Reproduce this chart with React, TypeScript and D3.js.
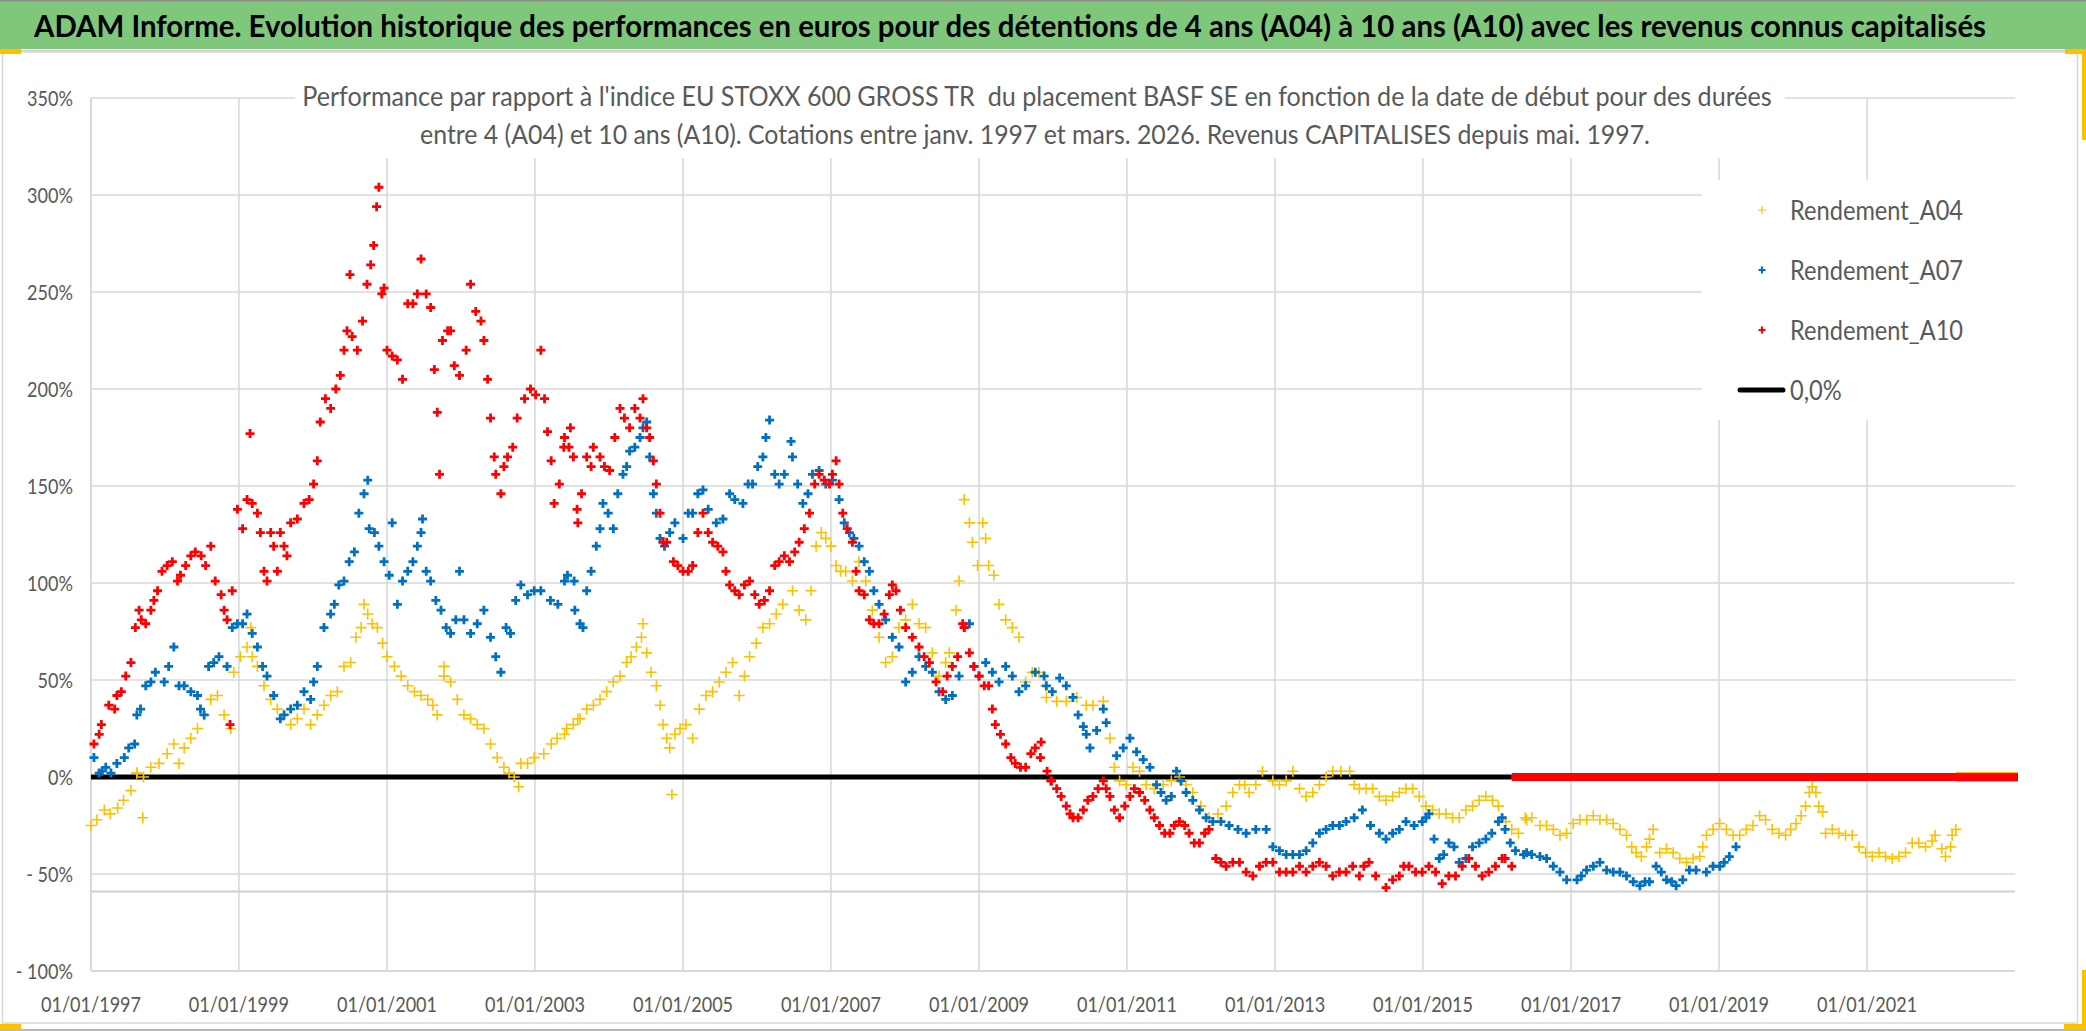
import { useLayoutEffect, useRef, useState } from 'react'
import * as d3 from 'd3'

// [decimal year, performance %] (two reading passes)
const A04: [number, number][] = [
  [1997.0, -25], [1997.18, -17], [1997.36, -16], [1997.54, -7], [1997.62, 2], [1997.7, -21],
  [1997.81, 5], [1998.03, 12], [1998.26, 15], [1998.44, 25], [1998.62, 40], [1998.8, 32],
  [1998.93, 54], [1999.11, 67], [1999.16, 77], [1999.25, 57], [1999.43, 40], [1999.61, 32],
  [1999.79, 30], [1999.97, 27], [2000.15, 37], [2000.33, 44], [2000.51, 59], [2000.65, 77],
  [2000.74, 84], [2000.87, 77], [2001.0, 62], [2001.19, 52], [2001.37, 44], [2001.55, 40],
  [2001.68, 32], [2001.77, 57], [2001.86, 49], [2002.04, 32], [2002.22, 27], [2002.4, 17],
  [2002.58, 5], [2002.72, 0], [2002.78, -5], [2002.9, 7], [2003.12, 12], [2003.3, 20],
  [2003.52, 27], [2003.7, 35], [2003.88, 40], [2004.06, 49], [2004.24, 59], [2004.37, 67],
  [2004.46, 79], [2004.51, 64], [2004.64, 47], [2004.73, 27], [2004.82, 15], [2004.85, -9],
  [2004.96, 25], [2005.13, 20], [2005.31, 42], [2005.49, 49], [2005.67, 59], [2005.76, 42],
  [2005.9, 62], [2006.08, 77], [2006.26, 84], [2006.48, 96], [2006.66, 81], [2006.8, 119],
  [2006.93, 123], [2007.07, 109], [2007.2, 106], [2007.38, 111], [2007.56, 86], [2007.74, 59],
  [2007.92, 77], [2008.1, 89], [2008.28, 77], [2008.46, 52], [2008.6, 64], [2008.73, 101],
  [2008.8, 143], [2008.91, 121], [2009.05, 131], [2009.13, 109], [2009.27, 89], [2009.45, 77],
  [2009.63, 49], [2009.81, 54], [2009.91, 41], [2010.18, 39], [2010.45, 37], [2010.68, 39],
  [2010.77, 20], [2010.9, -2], [2011.08, 5], [2011.26, -4], [2011.49, -4], [2011.71, 0],
  [2011.89, -8], [2012.11, -21], [2012.34, -15], [2012.52, -4], [2012.65, -8], [2012.83, 3],
  [2013.06, -4], [2013.24, 3], [2013.42, -10], [2013.6, -4], [2013.78, 3], [2014.01, 3],
  [2014.14, -6], [2014.32, -6], [2014.5, -12], [2014.68, -8], [2014.86, -6], [2015.04, -15],
  [2015.22, -19], [2015.4, -21], [2015.58, -17], [2015.76, -12], [2015.94, -12], [2016.12, -23],
  [2016.29, -29], [2016.47, -21], [2016.67, -25], [2016.85, -30], [2017.03, -24], [2017.21, -22],
  [2017.39, -22], [2017.57, -24], [2017.75, -30], [2017.88, -39], [2018.02, -36], [2018.11, -27],
  [2018.2, -39], [2018.38, -39], [2018.56, -44], [2018.74, -41], [2018.83, -30], [2019.01, -24],
  [2019.19, -30], [2019.37, -27], [2019.55, -20], [2019.72, -27], [2019.9, -30], [2020.04, -24],
  [2020.17, -15], [2020.26, -5], [2020.35, -15], [2020.44, -29], [2020.62, -29], [2020.8, -30],
  [2020.98, -39], [2021.16, -39], [2021.34, -42], [2021.52, -39], [2021.7, -34], [2021.88, -33],
  [2022.06, -41], [2022.15, -30], [2022.2, -27],
  // second pass
  [1997.08, -22], [1997.26, -19], [1997.44, -12], [1997.62, 2], [1997.71, 0], [1997.92, 7],
  [1998.12, 17], [1998.19, 7], [1998.35, 20], [1998.53, 32], [1998.71, 42], [1998.89, 25],
  [1999.02, 62], [1999.18, 62], [1999.34, 47], [1999.52, 35], [1999.7, 27], [1999.88, 35],
  [2000.06, 32], [2000.24, 42], [2000.42, 57], [2000.58, 72], [2000.69, 89], [2000.8, 79],
  [2000.94, 69], [2001.1, 57], [2001.28, 47], [2001.46, 42], [2001.62, 37], [2001.77, 52],
  [2001.95, 40], [2002.13, 30], [2002.31, 25], [2002.49, 10], [2002.65, 2], [2002.81, 7],
  [2002.99, 10], [2003.22, 17], [2003.4, 22], [2003.58, 30], [2003.43, 25], [2003.61, 30],
  [2003.79, 37], [2003.97, 44], [2004.15, 52], [2004.3, 62], [2004.44, 72], [2004.57, 54],
  [2004.69, 37], [2004.78, 20], [2004.89, 22], [2005.04, 27], [2005.22, 35], [2005.4, 44],
  [2005.58, 54], [2005.83, 52], [2005.99, 69], [2006.17, 79], [2006.35, 89], [2006.57, 86],
  [2006.73, 96], [2006.87, 126], [2007.0, 119], [2007.13, 106], [2007.29, 101], [2007.47, 101],
  [2007.65, 72], [2007.83, 62], [2008.01, 81], [2008.19, 79], [2008.37, 64], [2008.55, 59],
  [2008.69, 86], [2008.87, 131], [2008.98, 109], [2009.09, 123], [2009.2, 104], [2009.36, 81],
  [2009.54, 72], [2009.72, 54], [2009.9, 47], [2010.05, 39], [2010.32, 41], [2010.54, 37],
  [2010.83, 5], [2010.99, -4], [2011.17, 3], [2011.37, -6], [2011.6, -2], [2011.8, -4],
  [2012.0, -15], [2012.23, -19], [2012.43, -8], [2012.59, -4], [2012.74, -4], [2012.97, -2],
  [2013.15, -2], [2013.33, -6], [2013.51, -8], [2013.69, 0], [2013.89, 3], [2014.07, -4],
  [2014.23, -6], [2014.41, -10], [2014.59, -10], [2014.77, -6], [2014.95, -10], [2015.13, -17],
  [2015.31, -19], [2015.49, -21], [2015.67, -15], [2015.85, -10], [2016.02, -15], [2016.2, -27],
  [2016.38, -21], [2016.4, -22], [2016.58, -25], [2016.76, -27], [2016.94, -29], [2017.12, -22],
  [2017.3, -20], [2017.48, -22], [2017.66, -27], [2017.82, -36], [2017.95, -41], [2018.06, -32],
  [2018.29, -37], [2018.47, -42], [2018.65, -42], [2018.78, -36], [2018.92, -27], [2019.1, -27],
  [2019.28, -30], [2019.46, -25], [2019.63, -22], [2019.81, -29], [2019.97, -27], [2020.11, -20],
  [2020.22, -8], [2020.31, -8], [2020.4, -18], [2020.53, -27], [2020.71, -30], [2020.89, -36],
  [2021.07, -41], [2021.25, -41], [2021.43, -41], [2021.61, -34], [2021.79, -36], [2021.92, -30],
  [2022.01, -37], [2022.13, -36],
]

const A07: [number, number][] = [
  [1997.04, 10], [1997.15, 3], [1997.27, 2], [1997.45, 10], [1997.59, 17], [1997.67, 35],
  [1997.81, 49], [1997.99, 49], [1998.12, 67], [1998.26, 47], [1998.44, 42], [1998.53, 32],
  [1998.66, 59], [1998.84, 57], [1998.98, 79], [1999.11, 84], [1999.25, 67], [1999.38, 52],
  [1999.61, 32], [1999.79, 37], [1999.97, 40], [2000.06, 57], [2000.24, 84], [2000.42, 101],
  [2000.56, 116], [2000.69, 146], [2000.74, 153], [2000.83, 126], [2000.96, 111], [2001.14, 89],
  [2001.28, 106], [2001.41, 119], [2001.48, 133], [2001.59, 101], [2001.73, 86], [2001.86, 74],
  [2002.04, 81], [2002.22, 79], [2002.4, 72], [2002.54, 54], [2002.67, 74], [2002.81, 99],
  [2002.99, 96], [2003.21, 91], [2003.44, 104], [2003.61, 79], [2003.7, 96], [2003.83, 119],
  [2003.92, 141], [2004.06, 128], [2004.19, 156], [2004.28, 168], [2004.42, 175], [2004.51, 183],
  [2004.6, 146], [2004.69, 123], [2004.82, 126], [2005.0, 123], [2005.13, 136], [2005.27, 148],
  [2005.45, 131], [2005.63, 146], [2005.81, 141], [2005.94, 151], [2006.08, 165], [2006.17, 184],
  [2006.3, 151], [2006.48, 165], [2006.62, 141], [2006.75, 156], [2006.93, 151], [2007.11, 143],
  [2007.25, 126], [2007.38, 119], [2007.52, 106], [2007.65, 89], [2007.83, 72], [2008.01, 49],
  [2008.19, 62], [2008.37, 54], [2008.55, 40], [2008.73, 52], [2008.87, 79], [2009.0, 52],
  [2009.18, 54], [2009.36, 57], [2009.54, 44], [2009.76, 54], [2009.99, 44], [2010.09, 51],
  [2010.27, 41], [2010.41, 26], [2010.5, 15], [2010.68, 35], [2010.86, 11], [2011.04, 20],
  [2011.22, 9], [2011.4, -4], [2011.53, -12], [2011.67, 3], [2011.8, -8], [2011.98, -17],
  [2012.16, -23], [2012.38, -25], [2012.61, -29], [2012.88, -27], [2013.06, -38], [2013.24, -40],
  [2013.42, -38], [2013.6, -29], [2013.78, -25], [2013.96, -23], [2014.18, -17], [2014.41, -29],
  [2014.59, -29], [2014.77, -23], [2014.99, -23], [2015.08, -19], [2015.22, -42], [2015.35, -34],
  [2015.49, -44], [2015.67, -36], [2015.85, -32], [2016.02, -23], [2016.11, -27], [2016.25, -38],
  [2016.47, -40], [2016.67, -42], [2016.85, -49], [2017.08, -53], [2017.21, -48], [2017.39, -44],
  [2017.57, -49], [2017.75, -51], [2017.93, -56], [2018.06, -54], [2018.15, -46], [2018.29, -53],
  [2018.42, -56], [2018.6, -48], [2018.83, -49], [2019.01, -46], [2019.14, -41], [2019.23, -36],
  // second pass
  [1997.11, 2], [1997.2, 5], [1997.35, 7], [1997.51, 15], [1997.62, 32], [1997.74, 47],
  [1997.87, 54], [1998.05, 57], [1998.19, 47], [1998.35, 44], [1998.48, 35], [1998.59, 57],
  [1998.73, 62], [1998.91, 77], [1999.05, 79], [1999.18, 74], [1999.32, 57], [1999.47, 42],
  [1999.56, 30], [1999.7, 35], [1999.88, 44], [2000.01, 49], [2000.15, 77], [2000.29, 89],
  [2000.35, 99], [2000.49, 111], [2000.62, 136], [2000.76, 128], [2000.89, 119], [2001.03, 104],
  [2001.07, 131], [2001.21, 101], [2001.35, 111], [2001.46, 126], [2001.53, 106], [2001.66, 91],
  [2001.8, 77], [2001.93, 81], [2001.98, 106], [2002.13, 74], [2002.31, 86], [2002.47, 62],
  [2002.61, 77], [2002.74, 91], [2002.9, 94], [2003.08, 96], [2003.31, 89], [2003.53, 101],
  [2003.4, 101], [2003.54, 86], [2003.65, 77], [2003.76, 106], [2003.88, 128], [2003.99, 136],
  [2004.12, 146], [2004.24, 160], [2004.35, 170], [2004.46, 180], [2004.55, 165], [2004.64, 136],
  [2004.75, 119], [2004.89, 131], [2005.07, 136], [2005.2, 146], [2005.34, 138], [2005.54, 133],
  [2005.7, 143], [2005.88, 151], [2006.01, 160], [2006.12, 175], [2006.24, 156], [2006.37, 156],
  [2006.46, 173], [2006.55, 151], [2006.69, 146], [2006.84, 158], [2007.02, 153], [2007.18, 131],
  [2007.31, 123], [2007.45, 111], [2007.58, 96], [2007.74, 81], [2007.92, 67], [2008.1, 54],
  [2008.28, 57], [2008.46, 44], [2008.64, 42], [2008.8, 77], [2008.93, 57], [2009.09, 59],
  [2009.27, 49], [2009.45, 52], [2009.63, 47], [2009.88, 52], [2009.91, 47], [2010.18, 47],
  [2010.34, 32], [2010.45, 22], [2010.59, 24], [2010.72, 28], [2010.95, 15], [2011.13, 13],
  [2011.31, 5], [2011.46, -8], [2011.6, -10], [2011.73, -2], [2011.89, -12], [2012.07, -21],
  [2012.27, -23], [2012.5, -27], [2012.74, -27], [2012.97, -36], [2013.15, -40], [2013.33, -40],
  [2013.51, -34], [2013.69, -27], [2013.87, -25], [2014.07, -21], [2014.29, -25], [2014.5, -32],
  [2014.68, -27], [2014.88, -25], [2015.04, -21], [2015.15, -32], [2015.28, -40], [2015.42, -36],
  [2015.58, -42], [2015.76, -34], [2015.93, -29], [2016.07, -21], [2016.18, -34], [2016.36, -40],
  [2016.4, -39], [2016.58, -41], [2016.76, -46], [2016.94, -53], [2017.14, -51], [2017.3, -46],
  [2017.48, -48], [2017.66, -49], [2017.84, -54], [2018.0, -54], [2018.22, -49], [2018.36, -54],
  [2018.51, -53], [2018.69, -48], [2018.92, -46], [2019.07, -44],
]

const A10: [number, number][] = [
  [1997.04, 17], [1997.14, 27], [1997.32, 35], [1997.41, 44], [1997.54, 59], [1997.68, 81],
  [1997.81, 86], [1997.9, 96], [1998.03, 109], [1998.21, 104], [1998.35, 114], [1998.49, 114],
  [1998.62, 119], [1998.76, 94], [1998.84, 81], [1998.88, 27], [1998.98, 138], [1999.11, 143],
  [1999.15, 177], [1999.25, 136], [1999.34, 106], [1999.43, 126], [1999.52, 106], [1999.61, 119],
  [1999.7, 131], [1999.88, 141], [2000.01, 151], [2000.1, 183], [2000.24, 190], [2000.37, 207],
  [2000.46, 230], [2000.5, 259], [2000.6, 220], [2000.73, 254], [2000.82, 274], [2000.89, 304],
  [2000.93, 249], [2001.0, 220], [2001.14, 215], [2001.28, 244], [2001.46, 267], [2001.59, 242],
  [2001.68, 188], [2001.71, 156], [2001.82, 230], [2001.91, 212], [2002.13, 254], [2002.27, 235],
  [2002.36, 205], [2002.45, 165], [2002.54, 146], [2002.63, 165], [2002.76, 185], [2002.94, 200],
  [2003.08, 220], [2003.17, 178], [2003.26, 141], [2003.39, 170], [2003.48, 180], [2003.57, 138],
  [2003.7, 165], [2003.88, 165], [2004.01, 158], [2004.15, 190], [2004.28, 180], [2004.46, 195],
  [2004.55, 175], [2004.64, 151], [2004.73, 121], [2004.87, 111], [2005.0, 106], [2005.13, 109],
  [2005.27, 136], [2005.4, 121], [2005.54, 116], [2005.63, 99], [2005.76, 94], [2005.9, 101],
  [2006.03, 89], [2006.17, 96], [2006.3, 111], [2006.44, 111], [2006.57, 121], [2006.71, 136],
  [2006.84, 156], [2006.98, 151], [2007.07, 163], [2007.16, 136], [2007.29, 121], [2007.38, 96],
  [2007.52, 81], [2007.65, 79], [2007.79, 94], [2007.88, 96], [2008.01, 77], [2008.19, 67],
  [2008.33, 59], [2008.51, 44], [2008.64, 57], [2008.78, 79], [2008.87, 64], [2009.0, 52],
  [2009.13, 47], [2009.22, 27], [2009.36, 17], [2009.49, 7], [2009.63, 5], [2009.76, 15],
  [2009.84, 18], [2009.92, 3], [2010.05, -6], [2010.18, -15], [2010.27, -21], [2010.41, -17],
  [2010.54, -10], [2010.68, -2], [2010.77, -10], [2010.9, -21], [2011.04, -10], [2011.17, -8],
  [2011.31, -17], [2011.44, -25], [2011.58, -29], [2011.71, -23], [2011.84, -29], [2011.98, -34],
  [2012.11, -27], [2012.2, -42], [2012.34, -46], [2012.52, -44], [2012.7, -51], [2012.88, -44],
  [2013.06, -49], [2013.24, -49], [2013.42, -49], [2013.6, -44], [2013.78, -51], [2013.96, -49],
  [2014.14, -51], [2014.27, -44], [2014.5, -57], [2014.68, -51], [2014.81, -46], [2014.99, -49],
  [2015.17, -49], [2015.26, -55], [2015.44, -51], [2015.62, -42], [2015.8, -51], [2015.98, -46],
  [2016.11, -42], [2016.2, -46],
  // second pass
  [1997.11, 22], [1997.24, 37], [1997.35, 42], [1997.47, 52], [1997.6, 77], [1997.65, 86],
  [1997.74, 79], [1997.85, 91], [1997.96, 106], [1998.1, 111], [1998.17, 101], [1998.28, 109],
  [1998.41, 116], [1998.55, 109], [1998.68, 101], [1998.8, 86], [1998.91, 96], [1999.05, 128],
  [1999.18, 141], [1999.29, 126], [1999.38, 101], [1999.47, 119], [1999.56, 126], [1999.65, 114],
  [1999.79, 133], [1999.95, 143], [2000.06, 163], [2000.17, 195], [2000.31, 200], [2000.42, 220],
  [2000.53, 227], [2000.67, 235], [2000.78, 264], [2000.86, 294], [2000.96, 252], [2001.07, 217],
  [2001.21, 205], [2001.35, 244], [2001.41, 249], [2001.53, 249], [2001.64, 210], [2001.75, 225],
  [2001.86, 230], [2001.98, 207], [2002.07, 220], [2002.2, 240], [2002.31, 225], [2002.4, 185],
  [2002.47, 156], [2002.58, 160], [2002.7, 170], [2002.86, 195], [2003.01, 197], [2003.13, 195],
  [2003.22, 163], [2003.33, 151], [2003.46, 170], [2003.58, 131], [2003.4, 175], [2003.52, 165],
  [2003.63, 146], [2003.76, 160], [2003.79, 170], [2003.94, 160], [2004.08, 175], [2004.21, 185],
  [2004.35, 190], [2004.42, 185], [2004.51, 180], [2004.6, 163], [2004.69, 136], [2004.78, 121],
  [2004.93, 109], [2005.07, 106], [2005.2, 126], [2005.34, 126], [2005.47, 119], [2005.58, 106],
  [2005.7, 96], [2005.83, 99], [2005.97, 94], [2006.1, 91], [2006.24, 109], [2006.37, 114],
  [2006.51, 116], [2006.64, 128], [2006.78, 151], [2006.91, 153], [2007.02, 156], [2007.11, 151],
  [2007.22, 128], [2007.34, 106], [2007.45, 94], [2007.58, 79], [2007.72, 84], [2007.83, 99],
  [2007.94, 86], [2008.1, 72], [2008.26, 62], [2008.42, 49], [2008.57, 52], [2008.71, 62],
  [2008.8, 77], [2008.93, 57], [2009.07, 47], [2009.18, 35], [2009.29, 22], [2009.43, 10],
  [2009.56, 5], [2009.7, 12], [2009.83, 10], [2009.97, -2], [2009.98, -2], [2010.11, -10],
  [2010.23, -19], [2010.34, -21], [2010.47, -12], [2010.61, -6], [2010.72, -6], [2010.83, -17],
  [2010.97, -15], [2011.1, -6], [2011.24, -12], [2011.37, -21], [2011.51, -29], [2011.64, -25],
  [2011.78, -25], [2011.91, -34], [2012.05, -29], [2012.27, -44], [2012.43, -44], [2012.61, -49],
  [2012.79, -46], [2012.97, -44], [2013.15, -49], [2013.33, -46], [2013.51, -46], [2013.69, -46],
  [2013.87, -49], [2014.05, -46], [2014.2, -46], [2014.36, -51], [2014.59, -53], [2014.74, -46],
  [2014.9, -49], [2015.08, -46], [2015.35, -51], [2015.53, -46], [2015.71, -46], [2015.89, -49],
  [2016.07, -42],
]

// after the last known start date the sheet plots the series at 0
const ZERO_RUNS = [
  { key: 'A04', from: 2022.2, to: 2023.0 },
  { key: 'A07', from: 2019.23, to: 2023.0 },
  { key: 'A10', from: 2016.2, to: 2023.0 },
]

const Y_TICKS = [350, 300, 250, 200, 150, 100, 50, 0, -50, -100]
const X_TICK_YEARS = [1997, 1999, 2001, 2003, 2005, 2007, 2009, 2011, 2013, 2015, 2017, 2019, 2021]
const FLOOR_LEVEL = -59

const SERIES = [
  { key: 'A04', label: 'Rendement_A04', color: '#FFC000', data: A04, size: 5.5, stroke: 1.6, band: 10 },
  { key: 'A07', label: 'Rendement_A07', color: '#0070C0', data: A07, size: 4.5, stroke: 2.8, band: 8 },
  { key: 'A10', label: 'Rendement_A10', color: '#FF0000', data: A10, size: 4.5, stroke: 2.8, band: 8 },
]

const TITLE =
  'ADAM Informe. Evolution historique des performances en euros pour des détentions de 4 ans (A04) à 10 ans (A10) avec les revenus connus capitalisés'
const SUB1 =
  "Performance par rapport à l'indice EU STOXX 600 GROSS TR  du placement BASF SE en fonction de la date de début pour des durées"
const SUB2 =
  'entre 4 (A04) et 10 ans (A10). Cotations entre janv. 1997 et mars. 2026. Revenus CAPITALISES depuis mai. 1997.'

const W = 2086
const H = 1031
const FONT = "Lato, 'Open Sans', sans-serif"
const TXT = '#595959'
const GRID = '#d9d9d9'
const SQUEEZE = 0.86

function toDate(y: number) {
  const yr = Math.floor(y)
  const a = Date.UTC(yr, 0, 1)
  const b = Date.UTC(yr + 1, 0, 1)
  return new Date(a + (y - yr) * (b - a))
}

// text squeezed horizontally so that it spans a given width
function FitText(props: {
  x: number
  y: number
  width: number
  size: number
  color: string
  bold?: boolean
  children: string
}) {
  const ref = useRef<SVGTextElement>(null)
  const [k, setK] = useState(SQUEEZE)
  useLayoutEffect(() => {
    if (!ref.current) return
    const w = ref.current.getComputedTextLength()
    if (w > 0) setK(props.width / w)
  }, [props.width, props.children])
  return (
    <g transform={`translate(${props.x},${props.y}) scale(${k},1)`}>
      <text
        ref={ref}
        textAnchor="middle"
        fontFamily={FONT}
        fontSize={props.size}
        fontWeight={props.bold ? 700 : 400}
        fill={props.color}
        style={{ whiteSpace: 'pre' }}
      >
        {props.children}
      </text>
    </g>
  )
}

export default function App() {
  const left = 91
  const right = 2015
  const top = 98
  const bottom = 971

  const x = d3.scaleUtc().domain([toDate(1997), toDate(2023)]).range([left, right])
  const y = d3.scaleLinear().domain([-100, 350]).range([bottom, top])

  const xTicks = X_TICK_YEARS.map(toDate)
  const fmt = d3.utcFormat('%d/%m/%Y')
  const a10End = d3.max(A10, (d) => d[0])!

  const plus = (s: number) => `M${-s},0H${s}M0,${-s}V${s}`

  return (
    <svg
      width={W}
      height={H}
      style={{ position: 'absolute', left: 0, top: 0, background: '#fff' }}
    >
      <rect x={0} y={0} width={W} height={H} fill="#fff" />
      {/* title bar */}
      <rect x={0} y={0} width={W} height={49} fill="#7ec77b" />
      <line x1={0} x2={W} y1={0.75} y2={0.75} stroke="#8a8a8a" strokeWidth={1.5} />
      <line x1={0} x2={W} y1={51} y2={51} stroke="#d0d0d0" strokeWidth={2} />
      <FitText x={1010} y={37} width={1953} size={31} color="#000" bold>
        {TITLE}
      </FitText>

      {/* chart frame */}
      <rect x={2.5} y={52} width={2075} height={971} fill="none" stroke="#d9d9d9" strokeWidth={1.5} />
      <line x1={0} x2={W} y1={1030} y2={1030} stroke="#a0a0a0" strokeWidth={1.5} />

      {/* gridlines */}
      {Y_TICKS.map((t) => (
        <line key={'h' + t} x1={left} x2={right} y1={y(t)} y2={y(t)} stroke={GRID} strokeWidth={t === -100 ? 2 : 1.6} />
      ))}
      {xTicks.map((d, i) => (
        <line key={'v' + i} x1={x(d)} x2={x(d)} y1={top} y2={bottom} stroke={GRID} strokeWidth={i === 0 ? 2 : 1.6} />
      ))}
      <line x1={left} x2={right} y1={y(FLOOR_LEVEL)} y2={y(FLOOR_LEVEL)} stroke="#cfcfcf" strokeWidth={2} />

      {/* y labels */}
      {Y_TICKS.map((t) => (
        <g key={'yl' + t} transform={`translate(73,${y(t) + 7.5}) scale(${SQUEEZE},1)`}>
          <text textAnchor="end" fontFamily={FONT} fontSize={21} fill={TXT}>
            {t < 0 ? `- ${-t}%` : `${t}%`}
          </text>
        </g>
      ))}
      {/* x labels */}
      {xTicks.map((d, i) => (
        <g key={'xl' + i} transform={`translate(${x(d)},1012) scale(${SQUEEZE},1)`}>
          <text textAnchor="middle" fontFamily={FONT} fontSize={21} fill={TXT}>
            {fmt(d)}
          </text>
        </g>
      ))}

      {/* 0% line */}
      <line x1={x(toDate(1997))} x2={x(toDate(a10End))} y1={y(0)} y2={y(0)} stroke="#000" strokeWidth={5} />

      {/* series */}
      {SERIES.map((s) => {
        const run = ZERO_RUNS.find((r) => r.key === s.key)!
        return (
          <g key={s.key}>
            <line
              x1={x(toDate(run.from))}
              x2={x(toDate(run.to)) + 3}
              y1={y(0)}
              y2={y(0)}
              stroke={s.color}
              strokeWidth={s.band}
            />
            {s.data.map(([t, v], i) => (
              <path
                key={i}
                d={plus(s.size)}
                transform={`translate(${x(toDate(t))},${y(v)})`}
                stroke={s.color}
                strokeWidth={s.stroke}
                fill="none"
              />
            ))}
          </g>
        )
      })}

      {/* subtitle box */}
      <rect x={295} y={78} width={1490} height={80} fill="#fff" />
      <FitText x={1037} y={106} width={1469} size={26.5} color={TXT}>
        {SUB1}
      </FitText>
      <FitText x={1035} y={144} width={1230} size={26.5} color={TXT}>
        {SUB2}
      </FitText>

      {/* legend */}
      <rect x={1702} y={180} width={330} height={240} fill="#fff" />
      {SERIES.map((s, i) => (
        <g key={'lg' + s.key}>
          <path
            d={plus(s.key === 'A04' ? 4 : 3.5)}
            transform={`translate(1762,${210 + i * 60})`}
            stroke={s.color}
            strokeWidth={s.key === 'A04' ? 1.2 : 2.2}
            fill="none"
          />
          <g transform={`translate(1790,${220 + i * 60}) scale(${SQUEEZE},1)`}>
            <text fontFamily={FONT} fontSize={27.5} fill={TXT}>
              {s.label}
            </text>
          </g>
        </g>
      ))}
      <line x1={1740} x2={1783} y1={390} y2={390} stroke="#000" strokeWidth={5} strokeLinecap="round" />
      <g transform={`translate(1790,400) scale(${SQUEEZE},1)`}>
        <text fontFamily={FONT} fontSize={27.5} fill={TXT}>
          0,0%
        </text>
      </g>

      {/* selection handles */}
      <rect x={0} y={49} width={21} height={5} fill="#FFC000" />
      <rect x={2065} y={49} width={21} height={5} fill="#FFC000" />
      <rect x={2082} y={54} width={4} height={86} fill="#FFC000" />
      <rect x={0} y={1024} width={21} height={6} fill="#FFC000" />
      <rect x={2082} y={970} width={4} height={54} fill="#FFC000" />
      <rect x={2064} y={1024} width={22} height={6} fill="#FFC000" />
    </svg>
  )
}
